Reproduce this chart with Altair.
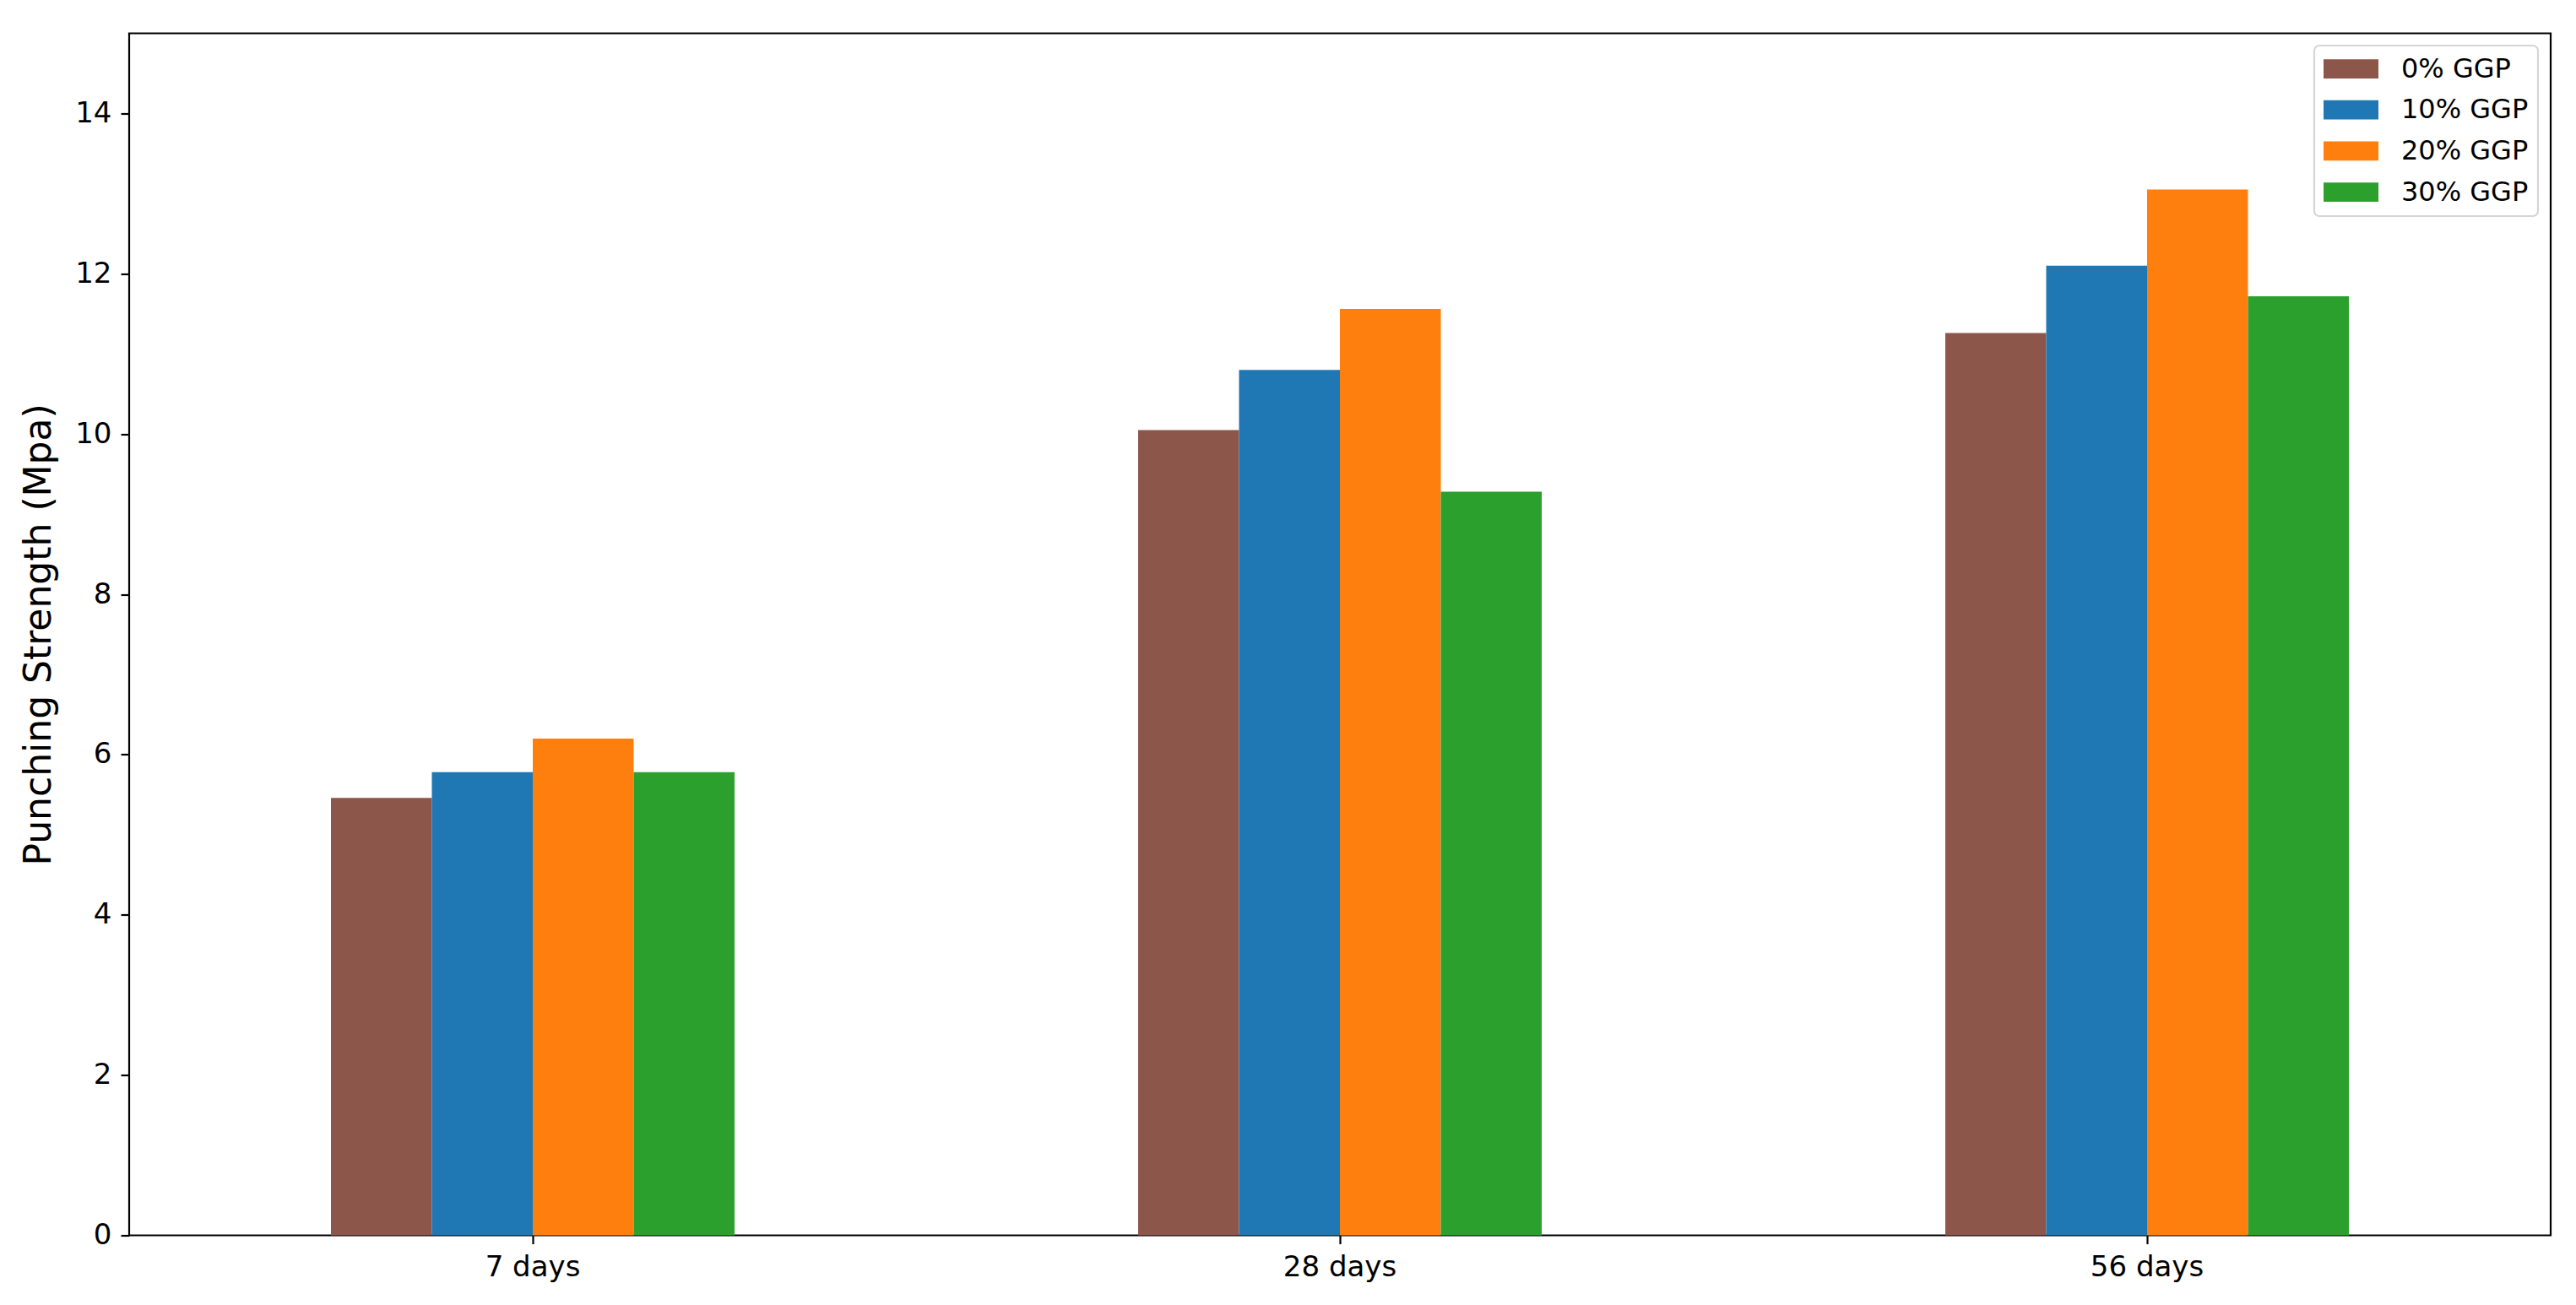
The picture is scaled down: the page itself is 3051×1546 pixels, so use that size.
import altair as alt
import pandas as pd

# Data
ages = ["7 days", "28 days", "56 days"]
series = ["0% GGP", "10% GGP", "20% GGP", "30% GGP"]
colors = ["#8c564b", "#1f77b4", "#ff7f0e", "#2ca02c"]
ggp0 = [5.46, 10.05, 11.26]
ggp10 = [5.78, 10.80, 12.10]
ggp20 = [6.20, 11.56, 13.05]
ggp30 = [5.78, 9.28, 11.72]

values = [ggp0, ggp10, ggp20, ggp30]
rows = []
for s, vals in zip(series, values):
    for a, v in zip(ages, vals):
        rows.append({"Age": a, "Mix": s, "Strength": v})
df = pd.DataFrame(rows)

FONT = "DejaVu Sans"

chart = (
    alt.Chart(df)
    .mark_bar()
    .encode(
        x=alt.X(
            "Age:N",
            sort=ages,
            scale=alt.Scale(paddingInner=0.5, paddingOuter=0.25),
            axis=alt.Axis(
                title=None,
                labelAngle=0,
                labelFontSize=34,
                labelPadding=11,
                tickSize=10,
                tickWidth=2.2,
                tickColor="black",
                domain=False,
            ),
        ),
        xOffset=alt.XOffset(
            "Mix:N",
            sort=series,
            scale=alt.Scale(paddingInner=0, paddingOuter=0),
        ),
        y=alt.Y(
            "Strength:Q",
            scale=alt.Scale(domain=[0, 15], nice=False),
            axis=alt.Axis(
                title="Punching Strength (Mpa)",
                values=[0, 2, 4, 6, 8, 10, 12, 14],
                grid=False,
                labelFontSize=34,
                labelPadding=11,
                tickSize=10,
                tickWidth=2.2,
                tickColor="black",
                domain=False,
                titleFontSize=44,
                titleFontWeight="normal",
                titleX=-93.5,
                titleY=712,
                titleBaseline="alphabetic",
                titleAlign="center",
                titleAngle=270,
            ),
        ),
        color=alt.Color(
            "Mix:N",
            sort=series,
            scale=alt.Scale(domain=series, range=colors),
            legend=alt.Legend(
                title=None,
                orient="none",
                legendX=2588,
                legendY=14.5,
                symbolType="M-1,-0.35L1,-0.35L1,0.35L-1,0.35Z",
                symbolSize=4225,
                symbolStrokeWidth=0,
                symbolOpacity=1,
                labelFontSize=32,
                labelOffset=27,
                clipHeight=33,
                rowPadding=15.7,
                padding=11,
                strokeColor="#d6d6d6",
                fillColor="white",
                cornerRadius=6,
            ),
        ),
    )
    .properties(
        width=2868,
        height=1424,
        autosize=alt.AutoSizeParams(type="none"),
        padding={"left": 145, "top": 31.5, "right": 14, "bottom": 60},
    )
    .configure(font=FONT)
    .configure_view(stroke="black", strokeWidth=2.2)
    .configure_axis(labelColor="black", titleColor="black", labelFont=FONT, titleFont=FONT)
    .configure_legend(labelColor="black", labelFont=FONT, strokeWidth=2.2)
)

chart.save("out.html", embed_options={"renderer": "svg", "actions": False})
